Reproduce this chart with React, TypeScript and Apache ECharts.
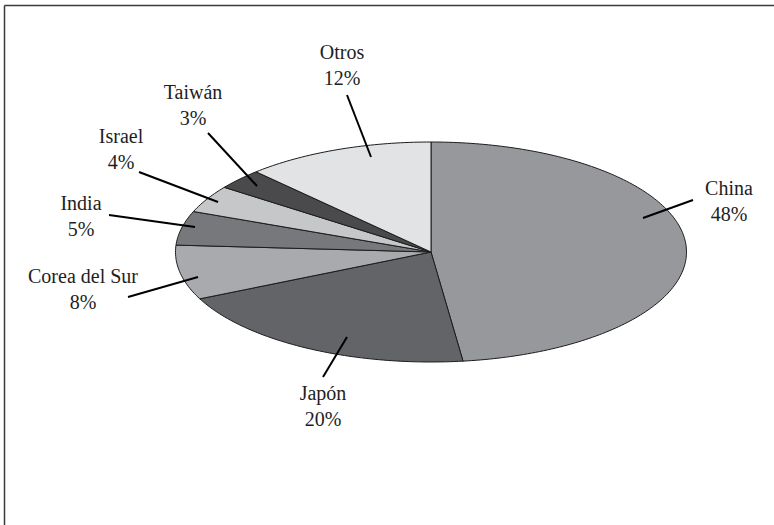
import React, { useEffect, useRef } from "react";
import * as echarts from "echarts";

// Share of each country, clockwise from the top of the pie
const countries = ["China", "Japón", "Corea del Sur", "India", "Israel", "Taiwán", "Otros"];
const shares = [48, 20, 8, 5, 4, 3, 12];
const sliceColors = ["#97989c", "#636467", "#a9aaad", "#77787b", "#c6c7c9", "#4a4a4d", "#e2e3e5"];

// Label placement: text block centre and leader line (outer end, inner end)
const labelLayout = [
  { tx: 729, ty: 201, x1: 693, y1: 200, x2: 643, y2: 218 },
  { tx: 323, ty: 406, x1: 323, y1: 377, x2: 347, y2: 337 },
  { tx: 83, ty: 289, x1: 128, y1: 297, x2: 198, y2: 277 },
  { tx: 81, ty: 216, x1: 109, y1: 215, x2: 195, y2: 227 },
  { tx: 121, ty: 149, x1: 139, y1: 172, x2: 218, y2: 202 },
  { tx: 193, ty: 105, x1: 208, y1: 133, x2: 257, y2: 186 },
  { tx: 342, ty: 65, x1: 347, y1: 95, x2: 371, y2: 157 },
];

// Flattened pie geometry
const CX = 431;
const CY = 252;
const RX = 255.5;
const RY = 110;

const LABEL_FONT = "'Liberation Serif', 'DejaVu Serif', serif";

export default function App() {
  const ref = useRef<HTMLDivElement>(null);

  useEffect(() => {
    if (!ref.current) return;
    const chart = echarts.init(ref.current, undefined, { renderer: "svg" });
    const total = shares.reduce((a, b) => a + b, 0);
    const starts: number[] = [];
    let acc = 0;
    for (const v of shares) {
      starts.push(acc);
      acc += v;
    }

    const renderItem = (params: any, api: any) => {
      const i = params.dataIndex;
      const v = api.value(0);
      const a0 = -Math.PI / 2 + (starts[i] / total) * Math.PI * 2;
      const a1 = a0 + (v / total) * Math.PI * 2;
      const steps = Math.max(2, Math.ceil(((a1 - a0) * 180) / Math.PI));
      const pts: number[][] = [[CX, CY]];
      for (let k = 0; k <= steps; k++) {
        const a = a0 + ((a1 - a0) * k) / steps;
        pts.push([CX + RX * Math.cos(a), CY + RY * Math.sin(a)]);
      }
      const lay = labelLayout[i];
      return {
        type: "group",
        children: [
          {
            type: "polygon",
            shape: { points: pts },
            style: { fill: sliceColors[i], stroke: "#1c1c1c", lineWidth: 1, lineJoin: "round" },
          },
          {
            type: "line",
            z2: 10,
            shape: { x1: lay.x1, y1: lay.y1, x2: lay.x2, y2: lay.y2 },
            style: { stroke: "#000", lineWidth: 2 },
          },
          {
            type: "text",
            z2: 10,
            style: {
              text: countries[i] + "\n" + v + "%",
              x: lay.tx,
              y: lay.ty,
              align: "center",
              verticalAlign: "middle",
              fontFamily: LABEL_FONT,
              fontSize: 20,
              lineHeight: 26,
              fill: "#1e1e1e",
            },
          },
        ],
      };
    };

    chart.setOption({
      animation: false,
      backgroundColor: "#ffffff",
      graphic: [
        {
          type: "line",
          shape: { x1: 4.5, y1: 5.5, x2: 774, y2: 5.5 },
          style: { stroke: "#3a3a3a", lineWidth: 1.5 },
          silent: true,
        },
        {
          type: "line",
          shape: { x1: 4.5, y1: 5.5, x2: 4.5, y2: 525 },
          style: { stroke: "#3a3a3a", lineWidth: 1.5 },
          silent: true,
        },
      ],
      series: [
        {
          type: "custom",
          coordinateSystem: "none",
          renderItem,
          data: shares.map((v, i) => ({ name: countries[i], value: [v] })),
        },
      ],
    });
    return () => chart.dispose();
  }, []);

  return (
    <div
      ref={ref}
      style={{ position: "absolute", left: 0, top: 0, width: 774, height: 525 }}
    />
  );
}
